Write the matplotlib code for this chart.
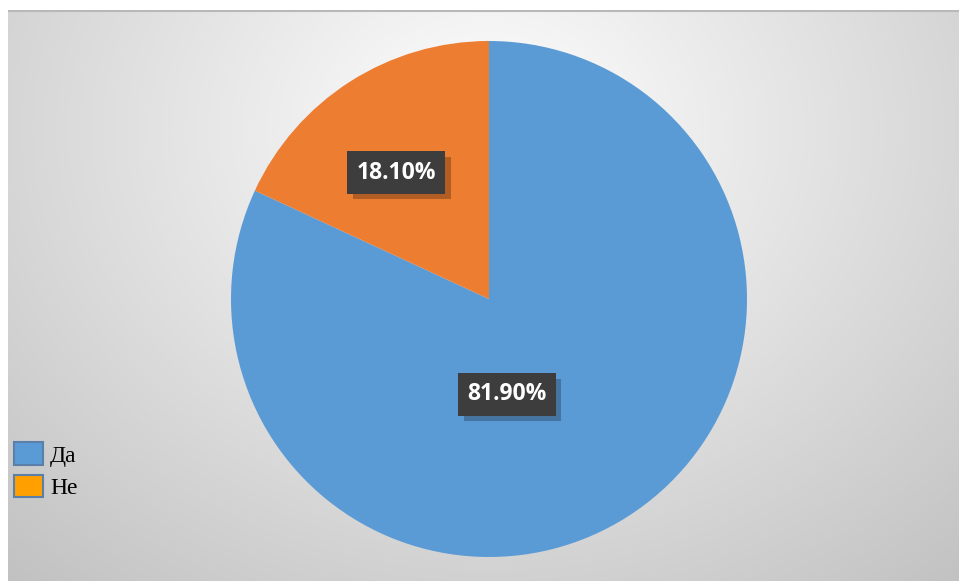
import matplotlib.pyplot as plt
import matplotlib.patches as mpatches
import matplotlib.patheffects as pe
import numpy as np

labels = ['Да', 'Не']
shares = [81.9, 18.1]
slice_colors = ['#5B9BD5', '#ED7D31']
legend_colors = ['#5B9BD5', '#FFA000']

W, H = 959, 581
fig = plt.figure(figsize=(W / 100, H / 100), dpi=100)
fig.patch.set_facecolor('white')

# gray panel with a soft radial highlight near the top middle
bg = fig.add_axes([8 / W, 0, (W - 8) / W, (H - 10) / H])
yy, xx = np.mgrid[0:H - 10, 0:W - 8]
d = np.sqrt(((xx - 480) / 620.0) ** 2 + ((yy - 120) / 520.0) ** 2)
shade = 1.0 - 0.25 * np.clip(d, 0, 1.2) / 1.2
bg.imshow(np.dstack([shade] * 3), aspect='auto', origin='upper', interpolation='bilinear')
bg.axhline(0, color='#b8b8b8', lw=1.5)
bg.set_axis_off()

# pie
r_px = 258
cx, cy = 489, 299
ax = fig.add_axes([(cx - r_px) / W, (H - cy - r_px) / H, 2 * r_px / W, 2 * r_px / H])
wedges, _ = ax.pie(shares, colors=slice_colors, startangle=90, counterclock=False,
                   radius=1, wedgeprops=dict(linewidth=0))
ax.set_xlim(-1, 1)
ax.set_ylim(-1, 1)
ax.set_aspect('equal')
ax.set_axis_off()

label_pos = [(0.07, -0.37), (-0.36, 0.49)]
for val, (lx, ly) in zip(shares, label_pos):
    t = ax.text(lx, ly, '%.2f%%' % val, ha='center', va='center', color='white',
                fontsize=16.5, fontweight='bold', family=['Open Sans', 'DejaVu Sans'],
                bbox=dict(boxstyle='square,pad=0.4', facecolor='#3d3d3d', edgecolor='none'))
    t.get_bbox_patch().set_path_effects([
        pe.SimplePatchShadow(offset=(4, -4), shadow_rgbFace='black', alpha=0.25),
        pe.Normal()])

handles = [mpatches.Patch(facecolor=c, edgecolor='#5a7fa8', linewidth=1.5) for c in legend_colors]
fig.legend(handles, labels, loc='lower left', bbox_to_anchor=(14 / W, (H - 499) / H),
           frameon=False, handlelength=1.23, handleheight=1.1, handletextpad=0.3,
           labelspacing=0.34, borderaxespad=0, borderpad=0,
           prop={'family': 'Liberation Serif', 'size': 17})

fig.savefig('out.png', dpi=100)
